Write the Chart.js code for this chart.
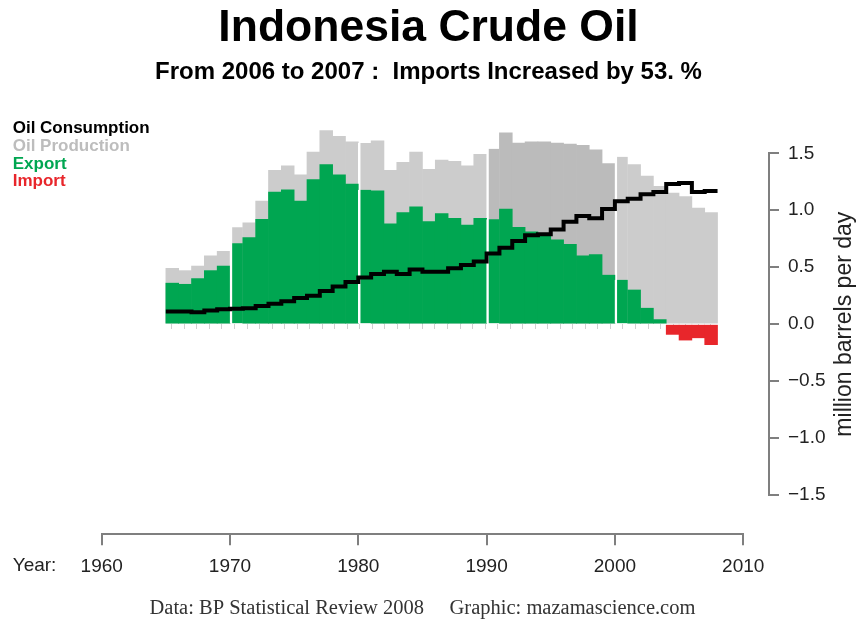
<!DOCTYPE html>
<html>
<head>
<meta charset="utf-8">
<title>Indonesia Crude Oil</title>
<script src="https://cdn.jsdelivr.net/npm/chart.js@4.4.1/dist/chart.umd.min.js"></script>
<style>
  html, body { margin: 0; padding: 0; background: #fff; }
  #wrap { position: relative; width: 857px; height: 621px; }
</style>
</head>
<body>
<div id="wrap"><canvas id="chart-oil"></canvas></div>
<script>
// million barrels per day
const years = [1965, 1966, 1967, 1968, 1969, 1970, 1971, 1972, 1973, 1974,
               1975, 1976, 1977, 1978, 1979, 1980, 1981, 1982, 1983, 1984,
               1985, 1986, 1987, 1988, 1989, 1990, 1991, 1992, 1993, 1994,
               1995, 1996, 1997, 1998, 1999, 2000, 2001, 2002, 2003, 2004,
               2005, 2006, 2007];
const consumption = [0.11, 0.11, 0.105, 0.12, 0.13, 0.135, 0.14, 0.16, 0.18, 0.20,
                     0.23, 0.25, 0.29, 0.33, 0.37, 0.41, 0.44, 0.46, 0.44, 0.48,
                     0.46, 0.46, 0.49, 0.52, 0.55, 0.62, 0.67, 0.73, 0.78, 0.79,
                     0.83, 0.90, 0.95, 0.93, 1.01, 1.08, 1.10, 1.14, 1.16, 1.23,
                     1.24, 1.16, 1.17];
const production = [0.49, 0.47, 0.51, 0.60, 0.64, 0.85, 0.89, 1.08, 1.35, 1.39,
                    1.31, 1.51, 1.70, 1.65, 1.60, 1.59, 1.61, 1.35, 1.42, 1.51,
                    1.36, 1.44, 1.43, 1.39, 1.49, 1.54, 1.68, 1.59, 1.60, 1.60,
                    1.59, 1.58, 1.57, 1.53, 1.41, 1.47, 1.40, 1.30, 1.21, 1.15,
                    1.12, 1.02, 0.98];
const exported = [0.36, 0.35, 0.40, 0.47, 0.51, 0.71, 0.76, 0.92, 1.16, 1.18,
                  1.08, 1.27, 1.40, 1.31, 1.23, 1.18, 1.17, 0.88, 0.98, 1.03,
                  0.90, 0.97, 0.93, 0.87, 0.93, 0.92, 1.01, 0.85, 0.81, 0.77,
                  0.74, 0.70, 0.60, 0.61, 0.43, 0.39, 0.30, 0.14, 0.04, 0,
                  0, 0, 0];
const imported = [0, 0, 0, 0, 0, 0, 0, 0, 0, 0,
                  0, 0, 0, 0, 0, 0, 0, 0, 0, 0,
                  0, 0, 0, 0, 0, 0, 0, 0, 0, 0,
                  0, 0, 0, 0, 0, 0, 0, 0, 0, -0.09,
                  -0.14, -0.12, -0.18];
const yearTicks = [1960, 1970, 1980, 1990, 2000, 2010];
const valueTicks = [-1.5, -1.0, -0.5, 0.0, 0.5, 1.0, 1.5];

const SANS = '"Liberation Sans", Arial, Helvetica, sans-serif';
const SERIF = '"Liberation Serif", "Times New Roman", serif';
const AXIS_GREY = '#7f7f7f';

// each year's bar covers [year, year+1); years with nothing to show get no bar
const barPoints = vals => years.map((yr, i) => ({ x: yr + 0.5, y: vals[i], year: yr }))
    .filter(p => p.y !== 0);
// step line: value holds from the start of its year to the start of the next
const stepPoints = years.map((yr, i) => ({ x: yr, y: consumption[i] }))
    .concat([{ x: years[years.length - 1] + 1, y: consumption[consumption.length - 1] }]);

// white gap on the left side of each decade bar
const decadeGap = ctx => (ctx.raw && ctx.raw.year % 10 === 0)
    ? { left: 2.5, top: 0, right: 0, bottom: 0 } : 0;

const barCommon = {
    type: 'bar',
    xAxisID: 'x',
    yAxisID: 'y',
    grouped: false,
    barPercentage: 1,
    categoryPercentage: 1,
    borderColor: '#ffffff',
    borderWidth: decadeGap,
    clip: false,
};

// invisible boxes to push the axes away from the plotting region
const spacer = (axis, position, size) => ({
    type: 'linear',
    axis: axis,
    position: position,
    weight: 0,
    display: true,
    ticks: { display: false },
    grid: { display: false },
    border: { display: false },
    afterFit: s => { if (axis === 'x') { s.height = size; } else { s.width = size; } },
});

// legend text, "Year:" and the rotated unit label
const sideText = {
    id: 'sideText',
    afterDraw(chart, args, opts) {
        const ctx = chart.ctx;
        ctx.save();
        ctx.textBaseline = 'middle';
        ctx.textAlign = 'left';
        ctx.font = 'bold 17px ' + SANS;
        chart.data.datasets.forEach((ds, i) => {
            ctx.fillStyle = ds.legendColor;
            ctx.fillText(ds.label, opts.legendX, opts.legendY + i * opts.legendStep);
        });
        ctx.font = '19px ' + SANS;
        ctx.fillStyle = '#222';
        ctx.fillText('Year:', opts.legendX, opts.yearY);

        const yScale = chart.scales.y;
        ctx.translate(opts.unitX, (yScale.top + yScale.bottom) / 2);
        ctx.rotate(-Math.PI / 2);
        ctx.textAlign = 'center';
        ctx.font = '23px ' + SANS;
        ctx.fillText('million barrels per day', 0, 0);
        ctx.restore();
    }
};

const chartOil = new Chart(document.getElementById('chart-oil'), {
    type: 'bar',
    data: {
        datasets: [{
            type: 'line',
            label: 'Oil Consumption',
            legendColor: '#000000',
            xAxisID: 'x',
            yAxisID: 'y',
            data: stepPoints,
            stepped: 'before',
            borderColor: '#000000',
            borderWidth: 4,
            borderJoinStyle: 'miter',
            pointRadius: 0,
            fill: false,
            order: 0,
        }, Object.assign({}, barCommon, {
            label: 'Oil Production',
            legendColor: '#bdbdbd',
            data: barPoints(production),
            backgroundColor: ctx => {
                const yr = ctx.raw ? ctx.raw.year : 0;
                return (yr >= 1990 && yr < 2000) ? '#bbbbbb' : '#cccccc';
            },
            order: 2,
        }), Object.assign({}, barCommon, {
            label: 'Export',
            legendColor: '#00a651',
            data: barPoints(exported),
            backgroundColor: '#00a651',
            order: 1,
        }), Object.assign({}, barCommon, {
            label: 'Import',
            legendColor: '#e8262b',
            data: barPoints(imported),
            backgroundColor: '#e8262b',
            order: 1,
        })]
    },
    options: {
        responsive: true,
        maintainAspectRatio: false,
        animation: false,
        events: [],
        scales: {
            x: {
                type: 'linear',
                position: 'bottom',
                weight: 1,
                min: yearTicks[0],
                max: yearTicks[yearTicks.length - 1],
                offset: false,
                afterBuildTicks: s => { s.ticks = yearTicks.map(v => ({ value: v })); },
                ticks: {
                    callback: v => String(v),
                    font: { family: SANS, size: 19 },
                    color: '#222',
                    padding: 10,
                    maxRotation: 0,
                    autoSkip: false,
                },
                grid: {
                    drawOnChartArea: false,
                    offset: false,
                    tickLength: 11,
                    color: AXIS_GREY,
                    lineWidth: 2,
                },
                border: { display: true, color: AXIS_GREY, width: 2 },
                title: {
                    display: true,
                    text: 'Data: BP Statistical Review 2008     Graphic: mazamascience.com',
                    font: { family: SERIF, size: 20.5 },
                    color: '#333',
                    padding: { top: 0, bottom: 0 },
                },
                afterFit: s => { s.height = 86.7; s.paddingLeft = 0; s.paddingRight = 0; },
            },
            y: {
                type: 'linear',
                position: 'right',
                weight: 1,
                min: valueTicks[0],
                max: valueTicks[valueTicks.length - 1],
                afterBuildTicks: s => { s.ticks = valueTicks.map(v => ({ value: v })); },
                ticks: {
                    callback: v => (v < 0 ? '\u2212' : '') + Math.abs(v).toFixed(1),
                    font: { family: SANS, size: 19 },
                    color: '#222',
                    padding: 9,
                },
                grid: {
                    drawOnChartArea: false,
                    tickLength: 10,
                    color: AXIS_GREY,
                    lineWidth: 2,
                },
                border: { display: true, color: AXIS_GREY, width: 2 },
                afterFit: s => { s.width = 88; },
            },
            // faint year marks just under the zero line
            xYears: {
                type: 'linear',
                axis: 'x',
                position: { y: 0 },
                min: yearTicks[0],
                max: yearTicks[yearTicks.length - 1],
                afterBuildTicks: s => { s.ticks = years.map(yr => ({ value: yr + 0.5 })); },
                ticks: { display: false },
                grid: { drawOnChartArea: false, tickLength: 5, color: '#d0d0d0', lineWidth: 1 },
                border: { display: false },
            },
            gapLeft: spacer('y', 'left', 101.7),
            gapRight: spacer('y', 'right', 25.8),
            gapBottom: spacer('x', 'bottom', 39.3),
        },
        plugins: {
            legend: { display: false },
            tooltip: { enabled: false },
            title: {
                display: true,
                text: 'Indonesia Crude Oil',
                color: '#000',
                font: { family: SANS, size: 44.5, weight: 'bold' },
                padding: { top: 2.3, bottom: 0 },
            },
            subtitle: {
                display: true,
                text: 'From 2006 to 2007 :  Imports Increased by 53. %',
                color: '#000',
                font: { family: SANS, size: 24, weight: 'bold' },
                padding: { top: 1.9, bottom: 66.9 },
            },
            sideText: {
                legendX: 12.7,
                legendY: 128.3,
                legendStep: 17.8,
                yearY: 566,
                unitX: 845,
            },
        },
    },
    plugins: [sideText],
});
</script>
</body>
</html>
